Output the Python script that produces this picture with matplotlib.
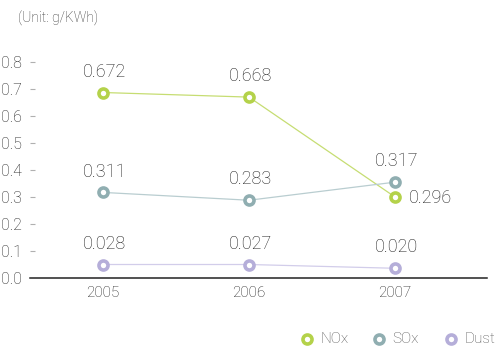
import matplotlib.pyplot as plt
from matplotlib.lines import Line2D

plt.rcParams["font.family"] = ["Roboto", "DejaVu Sans"]
plt.rcParams["font.weight"] = "light"

# ---------------------------------------------------------------------------
# Date
# ---------------------------------------------------------------------------
ani = [2005, 2006, 2007]
serii = ["NOx", "SOx", "Dust"]

# valorile afisate ca etichete
nox_val = ["0.672", "0.668", "0.296"]
sox_val = ["0.311", "0.283", "0.317"]
dust_val = ["0.028", "0.027", "0.020"]

# pozitiile markerelor
nox_poz = [0.687, 0.670, 0.300]
sox_poz = [0.317, 0.288, 0.355]
dust_poz = [0.050, 0.050, 0.036]

y_ticks = [0.0, 0.1, 0.2, 0.3, 0.4, 0.5, 0.6, 0.7, 0.8]

# culori: marker, linie
CULORI = {
    "NOx": ("#b4d24a", "#c6dd72"),
    "SOx": ("#90aeb1", "#b9cdd0"),
    "Dust": ("#b5aed9", "#d2cdea"),
}
TEXT = "#1e1e1e"

fig = plt.figure(figsize=(4.95, 3.48), dpi=100)
ax = fig.add_axes([30 / 495, 1 - 278 / 348, (487 - 30) / 495, 216 / 348])

date = [("NOx", nox_poz, nox_val), ("SOx", sox_poz, sox_val),
        ("Dust", dust_poz, dust_val)]

for nume, poz, val in date:
    c_mk, c_ln = CULORI[nume]
    ax.plot(ani, poz, color=c_ln, lw=0.9, zorder=2)
    ax.plot(ani, poz, ls="none", marker="o", ms=6.5, mew=2.6,
            mfc="white", mec=c_mk, zorder=3, clip_on=False)
    for i, (x, y, t) in enumerate(zip(ani, poz, val)):
        if nume == "NOx" and i == 2:
            ax.annotate(t, (x, y), xytext=(10, -1), textcoords="offset points",
                        ha="left", va="center", fontsize=13, color=TEXT)
        else:
            ax.annotate(t, (x, y), xytext=(1, 15), textcoords="offset points",
                        ha="center", va="center", fontsize=13, color=TEXT)

ax.set_xlim(2004.5, 2007.63)
ax.set_ylim(0, 0.8)
ax.set_xticks(ani)
ax.set_xticklabels([str(a) for a in ani])
ax.set_yticks(y_ticks)
ax.set_yticklabels([f"{v:.1f}" for v in y_ticks])

for s in ["top", "right", "left"]:
    ax.spines[s].set_visible(False)
ax.spines["bottom"].set_color("#222222")
ax.spines["bottom"].set_linewidth(1.1)

ax.tick_params(axis="x", length=0, pad=6, labelsize=11, labelcolor=TEXT)
ax.tick_params(axis="y", direction="in", length=3.5, width=0.8,
               color="#b0b0b0", pad=6, labelsize=11.5, labelcolor=TEXT)
# fara tick la 0.0
ax.yaxis.get_major_ticks()[0].tick1line.set_visible(False)

fig.text(18 / 495, 1 - 18 / 348, "(Unit: g/KWh)", fontsize=10,
         color="#333333", ha="left", va="center")

# legenda manuala in coltul din dreapta jos
leg_x = [307, 379, 451]
leg_y = 1 - 339 / 348
for nume, xp in zip(serii, leg_x):
    c_mk, _ = CULORI[nume]
    fig.add_artist(Line2D([xp / 495], [leg_y], transform=fig.transFigure,
                          ls="none", marker="o", ms=6.5, mew=2.6,
                          mfc="white", mec=c_mk))
    fig.text((xp + 13) / 495, leg_y, nume, fontsize=11, color="#555555",
             ha="left", va="center")

fig.savefig("out.png", dpi=100)
